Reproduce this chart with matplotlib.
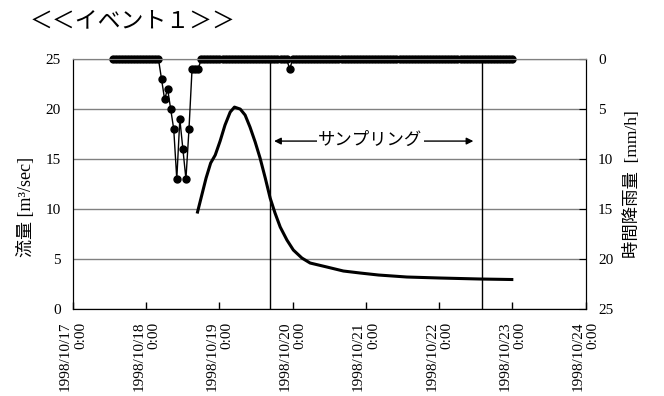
import pandas as pd
import numpy as np
import matplotlib
matplotlib.use("Agg")
import matplotlib.pyplot as plt

plt.rcParams['font.family'] = ['Liberation Serif', 'Noto Sans CJK JP']

# -------------------------------
# data
# -------------------------------
start = pd.Timestamp("1998-10-17 00:00")

# flow [m3/sec], hours from 10/17 0:00
flow_hours = [40.8, 42.2, 43.6, 45.1, 46.6, 48.2, 49.8, 51.5, 52.9, 54.8,
              56.4, 58.0, 59.7, 61.3, 63.0, 64.6, 66.2, 67.9, 70.1, 72.2,
              75.0, 77.7, 83.2, 88.6, 94.1, 100.1, 109.4, 120.3, 133.4, 143.8]
flow = [9.7, 11.4, 13.1, 14.6, 15.4, 16.8, 18.4, 19.7, 20.2, 20.0,
        19.4, 18.2, 16.7, 15.1, 13.1, 11.1, 9.6, 8.2, 6.9, 5.9,
        5.1, 4.6, 4.2, 3.8, 3.6, 3.4, 3.2, 3.1, 3.0, 2.95]

# hourly rainfall [mm/h], first value at hour 13
rain_first_hour = 13
rain = [0, 0, 0, 0, 0, 0, 0, 0, 0, 0, 0, 0, 0, 0, 0, 0,          # 13-28
        2, 4, 3, 5, 7, 12, 6, 9, 12, 7, 1, 1, 1,                 # 29-41
        0, 0, 0, 0, 0, 0, 0, 0, 0, 0, 0, 0, 0, 0, 0, 0,          # 42-57
        0, 0, 0, 0, 0, 0, 0, 0, 0, 0, 0, 0, 0,                   # 58-70
        1,                                                       # 71
        0, 0, 0, 0, 0, 0, 0, 0, 0, 0, 0, 0, 0, 0, 0, 0,          # 72-87
        0, 0, 0, 0, 0, 0, 0, 0, 0, 0, 0, 0, 0, 0, 0, 0,          # 88-103
        0, 0, 0, 0, 0, 0, 0, 0, 0, 0, 0, 0, 0, 0, 0, 0,          # 104-119
        0, 0, 0, 0, 0, 0, 0, 0, 0, 0, 0, 0, 0, 0, 0, 0,          # 120-135
        0, 0, 0, 0, 0, 0, 0, 0, 0]                               # 136-144

sampling = [pd.Timestamp("1998-10-19 16:30"), pd.Timestamp("1998-10-22 14:00")]

day_ticks = pd.date_range("1998-10-17", "1998-10-24", freq="D")
day_labels = ["1998/10/%d\n0:00" % d.day for d in day_ticks]

flow_t = start + pd.to_timedelta(flow_hours, unit="h")
rain_t = start + pd.to_timedelta(np.arange(len(rain)) + rain_first_hour, unit="h")

# -------------------------------
# plot
# -------------------------------
fig = plt.figure(figsize=(6.64, 3.96), dpi=100)
ax = fig.add_axes([0.110, 0.2197, 0.772, 0.631])
ax2 = ax.twinx()

ax.set_ylim(0, 25)
ax.set_yticks([0, 5, 10, 15, 20, 25])
ax.yaxis.grid(True, color="#808080", lw=1)
ax.set_axisbelow(True)
ax.set_xlim(day_ticks[0], day_ticks[-1])
ax.set_xticks(day_ticks)
ax.set_xticklabels(day_labels, rotation=90, ha="center", va="top", fontsize=11)
for lbl in ax.get_xticklabels():
    lbl.set_multialignment("right")
ax.tick_params(axis="x", direction="in", length=5, pad=9, width=1)
ax.tick_params(axis="y", length=0, pad=9, labelsize=11)

ax.plot(flow_t, flow, color="black", lw=2.2, solid_joinstyle="round")
for t in sampling:
    ax.axvline(t, color="black", lw=1)

ax.annotate("", xy=(start + pd.Timedelta(hours=65.9), 16.8),
            xytext=(start + pd.Timedelta(hours=131.2), 16.8),
            arrowprops=dict(arrowstyle="<|-|>", color="black", lw=1,
                            shrinkA=0, shrinkB=0, mutation_scale=10))
ax.text(start + pd.Timedelta(hours=97.4), 16.8, "サンプリング", ha="center", va="center",
        fontsize=12.5, bbox=dict(facecolor="white", edgecolor="none", pad=1))

ax2.set_ylim(25, 0)
ax2.set_yticks([0, 5, 10, 15, 20, 25])
ax2.tick_params(axis="y", direction="in", length=5, pad=9, labelsize=11)
ax2.plot(rain_t, rain, "o-", color="black", ms=5, lw=1, clip_on=False)

for a in (ax, ax2):
    a.spines["top"].set_color("#808080")
    for s in ("left", "right", "bottom"):
        a.spines[s].set_color("black")

ax.set_ylabel("流量 [m³/sec]", fontsize=13)
ax.yaxis.set_label_coords(-0.075, 0.41)
ax2.set_ylabel("時間降雨量  [mm/h]", fontsize=12.5)
ax2.yaxis.set_label_coords(1.075, 0.5)

fig.text(0.045, 0.945, "＜＜イベント１＞＞", fontsize=16.5, ha="left", va="center")

fig.savefig("out.png", dpi=100)
